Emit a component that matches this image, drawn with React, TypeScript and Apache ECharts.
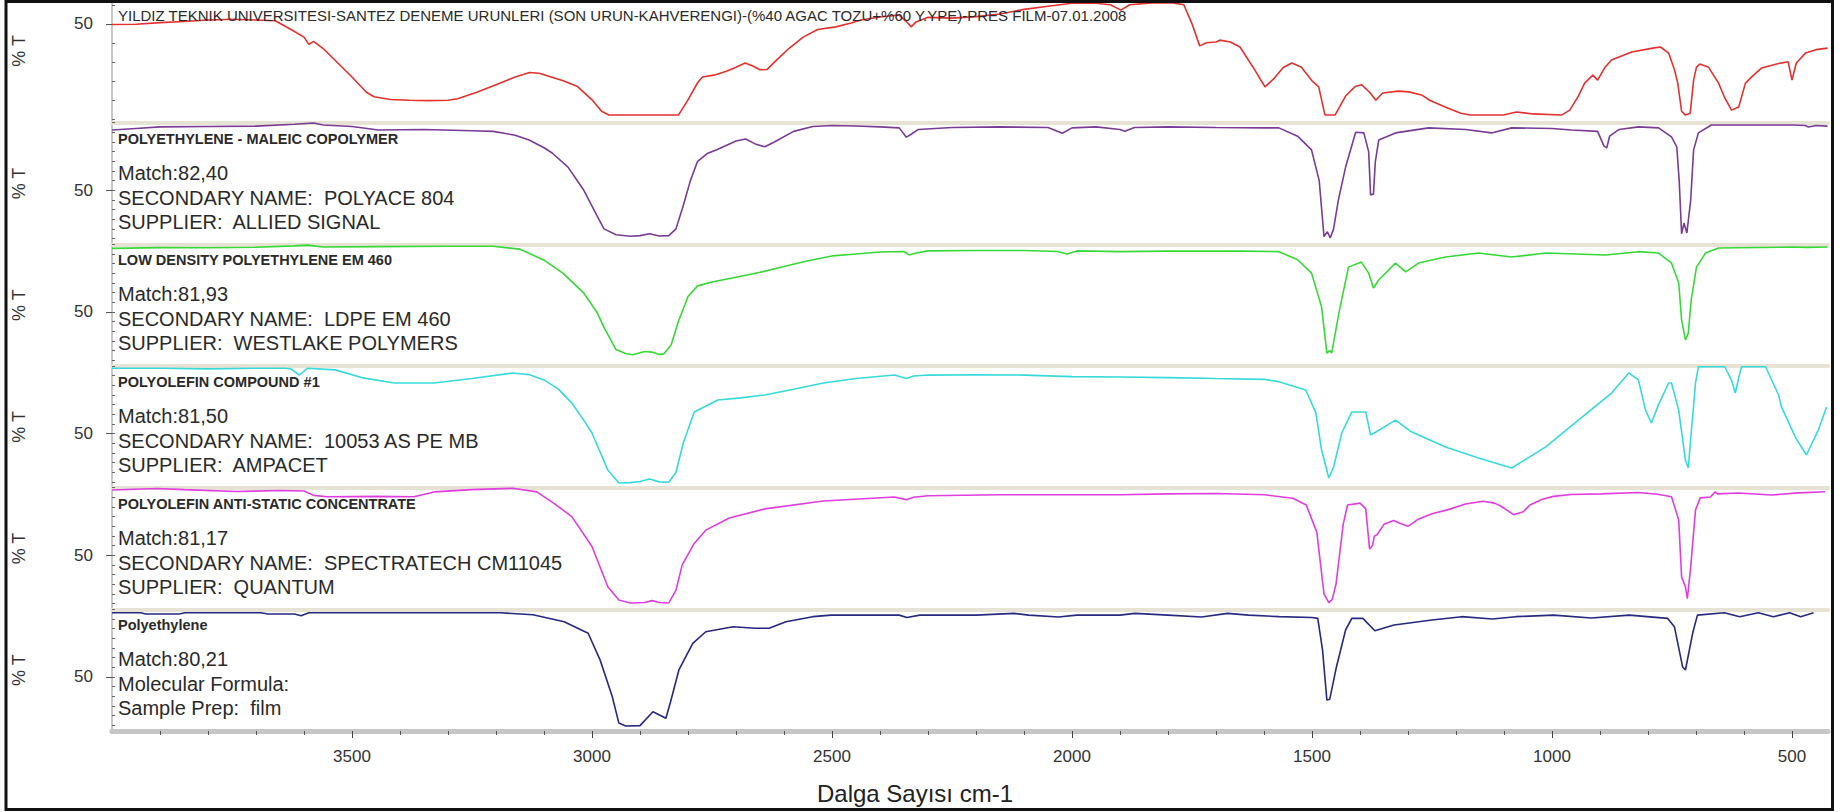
import React, { useEffect, useRef } from "react";
import * as echarts from "echarts";

// Wavenumber range (cm-1) shown on the shared horizontal axis, high values on the left
const WN_MIN = 425;
const WN_MAX = 4000;
const majorTicks = [500, 1000, 1500, 2000, 2500, 3000, 3500];
const minorTicks = [
  500, 600, 700, 800, 900, 1000, 1100, 1200, 1300, 1400, 1500, 1600, 1700, 1800,
  1900, 2000, 2100, 2200, 2300, 2400, 2500, 2600, 2700, 2800, 2900, 3000, 3100,
  3200, 3300, 3400, 3500, 3600, 3700, 3800, 3900,
];

// %T ranges of each stacked panel and their minor tick values
const sampleRange = [24, 56];
const libraryRange = [22, 85];
const sampleTicks = [25, 30, 35, 40, 45, 50, 55];
const libraryTicks = [25, 30, 35, 40, 45, 50, 55, 60, 65, 70, 75, 80, 85];
const labelValues = [50];

// Measured sample: wood flour / recycled PE film
const sampleSpectrum: [number, number][] = [
  [4000, 49.8], [3950, 49.9], [3900, 50.3], [3850, 50.6], [3800, 51], [3750, 51.2], [3700, 51],
  [3660, 50.8], [3627, 48.5], [3600, 46.5], [3590, 44.6], [3580, 45.4], [3560, 43.5], [3540, 41],
  [3500, 36], [3470, 32], [3454, 30.8], [3420, 30.1], [3380, 29.9], [3340, 29.8], [3300, 29.9],
  [3280, 30.3], [3240, 32], [3200, 34], [3160, 36], [3130, 37.2], [3110, 37], [3090, 36.2],
  [3060, 35], [3030, 33.5], [3000, 30], [2980, 27], [2965, 26], [2820, 26], [2800, 30],
  [2780, 34.5], [2770, 36], [2746, 36.5], [2720, 37.5], [2700, 38.6], [2681, 39.7], [2665, 38.9],
  [2650, 37.9], [2635, 38], [2615, 40.5], [2590, 43.5], [2560, 46.5], [2530, 48.5], [2492, 49.2],
  [2460, 50.2], [2440, 51], [2400, 51.8], [2360, 52.3], [2345, 50.6], [2335, 49.2], [2325, 50.5],
  [2300, 51.7], [2250, 51.5], [2200, 51.9], [2150, 52.6], [2100, 53.8], [2050, 54.6], [2000, 55.4],
  [1950, 55.4], [1920, 55], [1898, 53.6], [1880, 55], [1834, 55.5], [1790, 55.5], [1767, 55],
  [1750, 50], [1734, 44.2], [1720, 45], [1700, 45.2], [1692, 45.7], [1670, 45.2], [1650, 43.9],
  [1620, 38], [1598, 33.4], [1580, 35.5], [1560, 38.5], [1542, 39.7], [1522, 38.6], [1500, 35],
  [1486, 33.4], [1473, 26], [1452, 26], [1430, 31], [1410, 33.5], [1397, 34], [1380, 32],
  [1367, 29.9], [1353, 31.8], [1320, 32.3], [1298, 32.1], [1270, 31.2], [1255, 29.9], [1220, 28],
  [1190, 26.5], [1170, 26], [1101, 26], [1074, 26.8], [1040, 26.3], [980, 26], [963, 27.3],
  [945, 31], [932, 34.4], [915, 36.5], [905, 35.2], [890, 38.5], [876, 40.5], [834, 42.6],
  [790, 43.6], [774, 43.9], [757, 42.3], [745, 38], [738, 34.4], [730, 27], [722, 26], [712, 26.5],
  [705, 35.2], [699, 38.6], [692, 39.4], [674, 38.6], [653, 34.4], [640, 30.5], [626, 27.3],
  [611, 28.1], [597, 34.4], [580, 36.5], [563, 38.4], [530, 39.5], [508, 40], [500, 35.2],
  [491, 39.7], [472, 42.3], [450, 43.2], [426, 43.6],
];

// Library hit 1: polyethylene - maleic copolymer
const maleicSpectrum: [number, number][] = [
  [4000, 81.2], [3950, 82], [3900, 82.8], [3800, 83], [3700, 83.2], [3620, 84.2], [3580, 84.8],
  [3560, 83.8], [3500, 83], [3445, 81.2], [3350, 81.5], [3250, 80.8], [3206, 80.5], [3160, 78.5],
  [3131, 76], [3100, 72], [3083, 69.3], [3050, 62], [3017, 50], [2990, 37], [2975, 30], [2950, 27],
  [2920, 26.2], [2900, 26.5], [2880, 27.5], [2860, 26.3], [2840, 26.5], [2825, 30], [2810, 42],
  [2795, 55], [2780, 65], [2760, 69], [2740, 71], [2700, 75.5], [2680, 76.5], [2660, 74],
  [2640, 72.5], [2620, 75], [2580, 80.5], [2540, 83], [2500, 83.5], [2450, 83.3], [2400, 82.8],
  [2360, 82.3], [2345, 77.5], [2335, 79], [2320, 81.5], [2250, 82.5], [2150, 82.8], [2050, 82.5],
  [2020, 79.5], [2000, 82.3], [1950, 82.8], [1900, 81.5], [1890, 80.5], [1870, 82.5], [1800, 82.8],
  [1700, 82.5], [1600, 82.3], [1569, 82.3], [1530, 78], [1501, 70.9], [1485, 55], [1475, 26],
  [1468, 28.5], [1462, 25.3], [1455, 30], [1445, 45], [1430, 62], [1409, 80], [1392, 79.7],
  [1382, 70], [1378, 47.6], [1372, 48], [1368, 65], [1361, 76], [1326, 79.7], [1257, 82.3],
  [1180, 81.5], [1126, 79.7], [1084, 82.3], [1000, 82], [959, 81.2], [905, 80.5], [892, 73],
  [886, 71.9], [880, 78], [860, 81.5], [820, 82.8], [778, 82.3], [751, 77.6], [740, 72.4],
  [735, 55], [730, 27.5], [725, 33], [719, 27.9], [711, 45], [705, 70.9], [695, 79.7], [668, 83.8],
  [600, 83.8], [500, 83.8], [472, 83.5], [466, 82.8], [450, 83.5], [426, 83.2],
];

// Library hit 2: low density polyethylene EM 460
const ldpeSpectrum: [number, number][] = [
  [4000, 82.9], [3900, 83.3], [3800, 83.2], [3700, 83.5], [3620, 84.2], [3593, 84.6], [3560, 83.6],
  [3450, 83.8], [3300, 84], [3206, 84], [3150, 82.5], [3100, 76.8], [3060, 70], [3017, 59.7],
  [2990, 50], [2975, 42], [2950, 30.5], [2930, 28.5], [2915, 27.8], [2890, 29.5], [2875, 29.2],
  [2860, 28], [2850, 28.3], [2835, 33], [2820, 45], [2800, 58], [2780, 63.5], [2750, 65.5],
  [2700, 68], [2650, 70.5], [2600, 73.5], [2550, 76.5], [2500, 79], [2450, 80], [2400, 81],
  [2350, 81.3], [2340, 79.5], [2325, 80.5], [2300, 81.6], [2200, 81.8], [2100, 81.8], [2030, 81.3],
  [2010, 80], [1990, 81.6], [1900, 81.2], [1800, 81.5], [1650, 81.5], [1569, 81.2], [1530, 77],
  [1501, 70.1], [1480, 52.5], [1469, 28.7], [1463, 30], [1459, 28.7], [1444, 49.4], [1424, 73.2],
  [1397, 75.8], [1382, 70.1], [1372, 62.4], [1361, 66.5], [1326, 75.3], [1305, 70.7], [1278, 75.3],
  [1222, 78.4], [1153, 80.5], [1084, 78.4], [1013, 80.5], [888, 79.5], [820, 81.2], [778, 80.5],
  [751, 75.3], [736, 65], [730, 45.9], [722, 35.5], [716, 39], [710, 56.2], [699, 73.2], [680, 80.5],
  [653, 83.1], [500, 83.6], [470, 83.4], [426, 83.6],
];

// Library hit 3: polyolefin compound #1
const compoundSpectrum: [number, number][] = [
  [4000, 83.8], [3900, 83.8], [3800, 83.5], [3700, 83.8], [3640, 83.8], [3627, 83.5], [3610, 80.3],
  [3593, 83.8], [3535, 83], [3480, 79], [3412, 76.2], [3329, 76.2], [3250, 78.5], [3165, 81.4],
  [3130, 80.5], [3100, 77.8], [3070, 73], [3042, 65.8], [3020, 58], [3000, 50.3], [2967, 31.1],
  [2944, 24.4], [2920, 24.6], [2900, 25.2], [2880, 26.5], [2860, 25], [2840, 24.8], [2825, 30],
  [2810, 45], [2787, 61.2], [2738, 67.4], [2690, 68.5], [2640, 70], [2580, 73], [2518, 76.2],
  [2450, 78.5], [2370, 80.3], [2345, 78.5], [2330, 79.8], [2300, 80.3], [2200, 80.5], [2100, 80.3],
  [2000, 79.5], [1900, 79.3], [1800, 79], [1700, 78.5], [1600, 78.1], [1569, 76.9], [1513, 72.6],
  [1492, 60.7], [1480, 41.5], [1465, 27], [1455, 32.7], [1438, 50.3], [1417, 61.2], [1388, 61.2],
  [1378, 49.3], [1367, 50.8], [1326, 57], [1292, 50.8], [1222, 43.1], [1153, 37.4], [1084, 32.2],
  [1013, 43.1], [945, 57], [876, 71], [840, 81.4], [820, 77.8], [805, 62], [793, 55.5], [778, 65],
  [757, 76.2], [751, 76.2], [736, 62], [722, 36.3], [716, 32.2], [710, 50.3], [701, 76.2],
  [695, 84.6], [640, 84.6], [625, 77], [618, 71], [610, 80], [605, 84.6], [555, 84.6], [528, 70],
  [522, 63.8], [493, 48.2], [470, 38.9], [445, 51.9], [428, 63.8],
];

// Library hit 4: polyolefin anti-static concentrate
const antistaticSpectrum: [number, number][] = [
  [4000, 83.8], [3906, 84.6], [3850, 84], [3741, 83], [3650, 83.5], [3600, 83.3], [3580, 81],
  [3552, 80.3], [3450, 80.5], [3371, 80.3], [3329, 82.8], [3250, 84], [3165, 84.7], [3115, 82.8],
  [3080, 77], [3042, 70], [3000, 54.5], [2967, 33.7], [2944, 26.8], [2920, 25.3], [2890, 25.5],
  [2875, 26.5], [2860, 25.5], [2840, 25.3], [2825, 32], [2812, 45], [2788, 55.8], [2763, 63],
  [2714, 69.3], [2640, 74], [2518, 78.1], [2370, 80.2], [2345, 78.8], [2330, 80], [2300, 80.8],
  [2150, 81.3], [2000, 81.3], [1900, 81.3], [1800, 81.8], [1700, 82], [1598, 81.3], [1540, 79.5],
  [1512, 76], [1490, 62], [1475, 30], [1465, 25.5], [1458, 27], [1450, 35], [1435, 66], [1426, 76],
  [1400, 77], [1388, 74], [1380, 53.2], [1374, 55], [1370, 60], [1365, 60.5], [1350, 66],
  [1330, 68], [1316, 66.5], [1300, 65], [1280, 68.5], [1250, 71.5], [1218, 73.5], [1180, 76.5],
  [1143, 78], [1120, 77], [1107, 75.5], [1080, 71], [1060, 72.5], [1046, 76], [1020, 79],
  [997, 80.5], [960, 81.5], [898, 81.8], [820, 82.5], [780, 81.6], [751, 80.3], [736, 68.2],
  [730, 38.8], [722, 33.6], [718, 27.5], [711, 44], [701, 73.5], [691, 79.7], [670, 80.2],
  [660, 82.8], [655, 81.8], [611, 82.2], [543, 81.2], [487, 82.3], [431, 82.9],
];

// Library hit 5: polyethylene film
const peSpectrum: [number, number][] = [
  [4000, 83.2], [3940, 83.2], [3930, 82.6], [3860, 82.6], [3848, 83.2], [3690, 83.2], [3675, 82.6],
  [3620, 82.6], [3606, 81.7], [3590, 83.2], [3400, 83.2], [3190, 83.2], [3123, 82.2], [3058, 78.6],
  [3008, 72.6], [2983, 58.7], [2958, 40], [2944, 26.1], [2930, 24.6], [2900, 24.8], [2873, 32],
  [2846, 28.6], [2837, 36.5], [2819, 53.6], [2790, 67.4], [2763, 73.4], [2706, 76], [2660, 75.2],
  [2631, 75.2], [2596, 78.6], [2540, 81.2], [2502, 82], [2360, 82], [2344, 80.8], [2317, 82],
  [2200, 82], [2121, 82.9], [2090, 82], [2028, 81], [1990, 82], [1900, 82], [1869, 82.9],
  [1800, 82], [1730, 81], [1676, 82.9], [1632, 82], [1569, 81.2], [1500, 80.8], [1488, 80.3],
  [1478, 63.9], [1469, 38], [1463, 38.5], [1449, 55.3], [1430, 74.3], [1417, 80.3], [1394, 80.3],
  [1369, 73.9], [1329, 76.9], [1250, 79.5], [1188, 81.2], [1124, 80], [1076, 81.2], [997, 82],
  [918, 80.5], [839, 82], [759, 80.3], [745, 76], [728, 55.3], [722, 53.6], [707, 72.6], [697, 82],
  [641, 83.2], [609, 81.2], [570, 83.2], [539, 81.2], [505, 83.2], [482, 81.2], [455, 83.2],
];

const spectra = [sampleSpectrum, maleicSpectrum, ldpeSpectrum, compoundSpectrum, antistaticSpectrum, peSpectrum];
const seriesNames = [
  "Numune",
  "POLYETHYLENE - MALEIC COPOLYMER",
  "LOW DENSITY POLYETHYLENE EM 460",
  "POLYOLEFIN COMPOUND #1",
  "POLYOLEFIN ANTI-STATIC CONCENTRATE",
  "Polyethylene",
];
const seriesColors = ["#e3312d", "#7a3b96", "#36d936", "#36dada", "#e03de0", "#27287f"];

const panelTitles = [
  "YILDIZ TEKNIK UNIVERSITESI-SANTEZ DENEME URUNLERI (SON URUN-KAHVERENGI)-(%40 AGAC TOZU+%60 Y.YPE)-PRES FILM-07.01.2008",
  "POLYETHYLENE - MALEIC COPOLYMER",
  "LOW DENSITY POLYETHYLENE EM 460",
  "POLYOLEFIN COMPOUND #1",
  "POLYOLEFIN ANTI-STATIC CONCENTRATE",
  "Polyethylene",
];
const matchLines = ["", "Match:82,40", "Match:81,93", "Match:81,50", "Match:81,17", "Match:80,21"];
const secondLines = [
  "",
  "SECONDARY NAME:  POLYACE 804",
  "SECONDARY NAME:  LDPE EM 460",
  "SECONDARY NAME:  10053 AS PE MB",
  "SECONDARY NAME:  SPECTRATECH CM11045",
  "Molecular Formula:",
];
const thirdLines = [
  "",
  "SUPPLIER:  ALLIED SIGNAL",
  "SUPPLIER:  WESTLAKE POLYMERS",
  "SUPPLIER:  AMPACET",
  "SUPPLIER:  QUANTUM",
  "Sample Prep:  film",
];

const SANS = '"Liberation Sans", Arial, Helvetica, sans-serif';

const W = 1847;
const H = 812;
const PLOT_LEFT = 112;
const PLOT_RIGHT = 1828;
const PLOT_TOP = 1;
const PLOT_BOTTOM = 731;
const PANEL_H = (PLOT_BOTTOM - PLOT_TOP) / 6;

function buildOption(): echarts.EChartsOption {
  const grids: any[] = [];
  const xAxes: any[] = [];
  const yAxes: any[] = [];
  const majorYAxes: any[] = [];
  const series: any[] = [];
  const texts: any[] = [];
  const n = spectra.length;

  for (let i = 0; i < n; i++) {
    const top = PLOT_TOP + i * PANEL_H;
    const last = i === n - 1;
    const range = i === 0 ? sampleRange : libraryRange;
    grids.push({
      left: PLOT_LEFT,
      width: PLOT_RIGHT - PLOT_LEFT,
      top,
      height: PANEL_H,
      outerBoundsMode: "none",
      containLabel: false,
    });
    xAxes.push({
      type: "value",
      gridIndex: i,
      inverse: true,
      min: WN_MIN,
      max: WN_MAX,
      axisLine: {
        show: true,
        onZero: false,
        lineStyle: { color: last ? "#c6c6c6" : "#e7e3d4", width: last ? 5 : 4 },
      },
      axisTick: last
        ? { show: true, customValues: minorTicks, length: 4, inside: false, lineStyle: { color: "#555", width: 1 } }
        : { show: false },
      axisLabel: { show: false },
      splitLine: { show: false },
    });
    yAxes.push({
      type: "value",
      gridIndex: i,
      position: "left",
      min: range[0],
      max: range[1],
      axisLine: { show: true, lineStyle: { color: "#c9c9c9", width: 2 } },
      axisTick: {
        show: true,
        inside: true,
        length: 3,
        customValues: i === 0 ? sampleTicks : libraryTicks,
        lineStyle: { color: "#666", width: 1 },
      },
      axisLabel: {
        show: true,
        customValues: labelValues,
        margin: 19,
        fontSize: 17,
        fontFamily: SANS,
        color: "#333",
      },
      splitLine: { show: false },
      name: "% T",
      nameLocation: "middle",
      nameRotate: 90,
      nameGap: 84,
      nameTextStyle: {
        fontSize: 18,
        fontFamily: SANS,
        color: "#333",
        padding: i === 0 ? [0, 0, 0, 22] : 0,
      },
    });
    majorYAxes.push({
      type: "value",
      gridIndex: i,
      position: "left",
      offset: 0,
      min: range[0],
      max: range[1],
      axisLine: { show: false },
      axisTick: { show: true, length: 6, customValues: labelValues, lineStyle: { color: "#555", width: 1 } },
      axisLabel: { show: false },
      splitLine: { show: false },
    });
    series.push({
      type: "line",
      name: seriesNames[i],
      xAxisIndex: i,
      yAxisIndex: i,
      data: spectra[i],
      showSymbol: false,
      symbol: "none",
      smooth: false,
      clip: true,
      lineStyle: { color: seriesColors[i], width: 1.6 },
      z: 3,
    });

    // Panel annotations: library entry name and match information
    texts.push({
      type: "text",
      x: 118,
      y: top + (i === 0 ? 14 : 16),
      z: 10,
      style: {
        text: panelTitles[i],
        fill: "#2a2a2a",
        fontSize: i === 0 ? 15 : 14.5,
        fontWeight: i === 0 ? "normal" : "bold",
        fontFamily: SANS,
        verticalAlign: "middle",
        align: "left",
      },
    });
    const info = [matchLines[i], secondLines[i], thirdLines[i]];
    const offsets = [50, 75, 99];
    info.forEach((t, k) => {
      if (!t) return;
      texts.push({
        type: "text",
        x: 118,
        y: top + offsets[k],
        z: 10,
        style: {
          text: t,
          fill: "#2a2a2a",
          fontSize: 20,
          fontFamily: SANS,
          verticalAlign: "middle",
          align: "left",
        },
      });
    });
  }

  // Long ticks, labels and the title of the shared wavenumber axis
  xAxes.push({
    type: "value",
    gridIndex: n - 1,
    inverse: true,
    min: WN_MIN,
    max: WN_MAX,
    position: "bottom",
    axisLine: { show: false, onZero: false },
    axisTick: { show: true, customValues: majorTicks, length: 7, lineStyle: { color: "#444", width: 1 } },
    axisLabel: {
      show: true,
      customValues: majorTicks,
      formatter: (v: number) => String(v),
      margin: 17,
      fontSize: 17,
      fontFamily: SANS,
      color: "#333",
    },
    splitLine: { show: false },
    name: "Dalga Sayısı cm-1",
    nameLocation: "middle",
    nameGap: 50,
    nameTextStyle: { fontSize: 24, fontFamily: SANS, color: "#222", padding: [0, 110, 0, 0] },
  });

  return {
    animation: false,
    backgroundColor: "#ffffff",
    grid: grids,
    xAxis: xAxes,
    yAxis: [...yAxes, ...majorYAxes],
    series,
    graphic: [
      ...texts,
      {
        type: "rect",
        z: 20,
        silent: true,
        shape: { x: 6, y: 1.5, width: 1826.5, height: 808 },
        style: { fill: "none", stroke: "#111", lineWidth: 3 },
      },
    ],
  } as any;
}

export default function App() {
  const ref = useRef<HTMLDivElement | null>(null);
  useEffect(() => {
    if (!ref.current) return;
    const chart = echarts.init(ref.current, undefined, { renderer: "svg" });
    chart.setOption(buildOption());
    return () => {
      chart.dispose();
    };
  }, []);
  return (
    <div
      ref={ref}
      style={{ position: "fixed", left: 0, top: 0, width: W, height: H, background: "#fff" }}
    />
  );
}
